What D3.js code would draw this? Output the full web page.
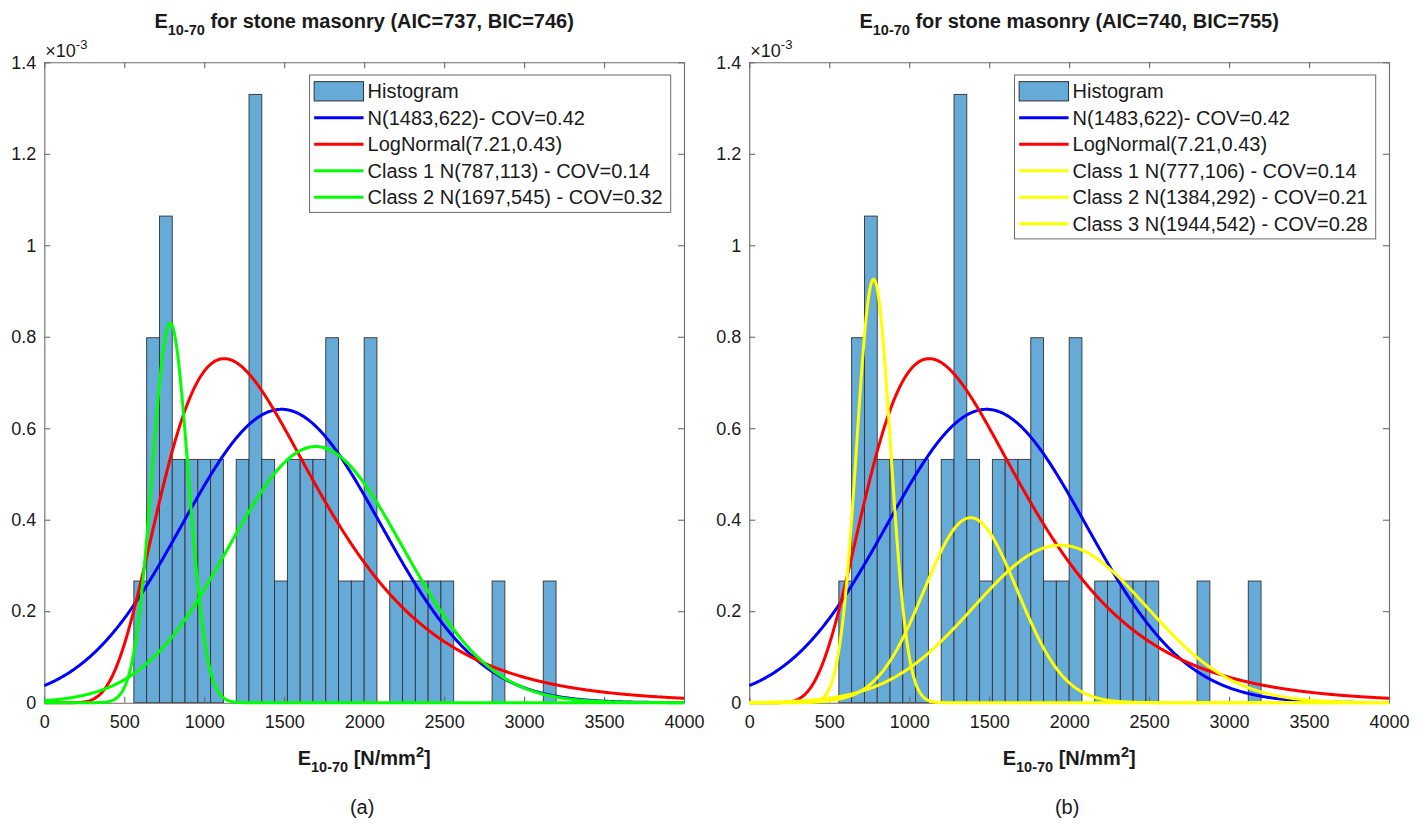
<!DOCTYPE html>
<html>
<head>
<meta charset="utf-8">
<script src="https://cdn.jsdelivr.net/npm/d3@7"></script>
<style>
  body { margin: 0; background: #fff; }
  svg { display: block; }
  text { font-family: "Liberation Sans", Arial, Helvetica, sans-serif; fill: #1a1a1a; }
</style>
</head>
<body>
<svg id="fig" width="1426" height="824"></svg>
<script>
// ---- data ----
const binStart = 560;          // left edge of first bin [N/mm2]
const binWidth = 80;           // bin width [N/mm2]
const binCounts = [1, 3, 4, 2, 2, 2, 2, 0, 2, 5, 2, 1, 2, 2, 2, 3, 1, 1, 3, 0,
                   1, 1, 1, 1, 1, 0, 0, 0, 1, 0, 0, 0, 1];
const xTicks = [0, 500, 1000, 1500, 2000, 2500, 3000, 3500, 4000];
const yTicks = [0, 0.2, 0.4, 0.6, 0.8, 1, 1.2, 1.4];   // in units of 10^-3

const normalFit = { mu: 1483, sigma: 622, cov: 0.42 };
const logNormalFit = { mu: 7.21, sigma: 0.43 };

// mixture components (weight = mixing proportion)
const classesA = [
  { mu: 787,  sigma: 113, weight: 0.235, cov: 0.14 },
  { mu: 1697, sigma: 545, weight: 0.765, cov: 0.32 }
];
const classesB = [
  { mu: 777,  sigma: 106, weight: 0.246, cov: 0.14 },
  { mu: 1384, sigma: 292, weight: 0.296, cov: 0.21 },
  { mu: 1944, sigma: 542, weight: 0.468, cov: 0.28 }
];

const panels = [
  { tag: "(a)", aic: 737, bic: 746, classes: classesA, classColor: "#00ff00", left: 44.3 },
  { tag: "(b)", aic: 740, bic: 755, classes: classesB, classColor: "#ffff00", left: 749.3 }
];

// ---- drawing ----
const svg = d3.select("#fig");
const plotW = 639.7, plotTop = 62.3, plotBottom = 702.7;
const histFill = "#66aad7";
const axisColor = "#6b6b6b";
const nTotal = d3.sum(binCounts);

const normPdf = (x, m, s) => Math.exp(-0.5 * ((x - m) / s) ** 2) / (s * Math.sqrt(2 * Math.PI));
const logNormPdf = (x, m, s) => x <= 0 ? 0 :
  Math.exp(-0.5 * ((Math.log(x) - m) / s) ** 2) / (x * s * Math.sqrt(2 * Math.PI));

const xs = d3.range(0, 4000.1, 5);

panels.forEach(p => {
  const x = d3.scaleLinear().domain([0, 4000]).range([p.left, p.left + plotW]);
  const y = d3.scaleLinear().domain([0, 1.4]).range([plotBottom, plotTop]);
  const g = svg.append("g");
  const cx = p.left + plotW / 2;

  // histogram (pdf normalisation)
  const bins = binCounts.map((c, i) => ({
    x0: binStart + i * binWidth, x1: binStart + (i + 1) * binWidth,
    d: c / (nTotal * binWidth) * 1000
  })).filter(b => b.d > 0);
  g.append("g").selectAll("rect").data(bins).join("rect")
    .attr("x", b => x(b.x0)).attr("width", b => x(b.x1) - x(b.x0))
    .attr("y", b => y(b.d)).attr("height", b => y(0) - y(b.d))
    .attr("fill", histFill).attr("stroke", "#333").attr("stroke-width", 0.9);

  // axes with inward ticks on all four sides
  const styleAxis = sel => {
    sel.selectAll("path.domain").attr("stroke", axisColor).attr("stroke-width", 1.1);
    sel.selectAll(".tick line").attr("stroke", axisColor).attr("stroke-width", 1.1);
    sel.selectAll(".tick text").attr("font-size", 18).attr("fill", "#1a1a1a")
      .attr("font-family", '"Liberation Sans", Arial, sans-serif');
  };
  g.append("g").attr("transform", `translate(0,${plotBottom})`)
    .call(d3.axisBottom(x).tickValues(xTicks).tickSizeInner(-6).tickSizeOuter(0).tickPadding(13).tickFormat(d3.format("d")))
    .call(styleAxis);
  g.append("g").attr("transform", `translate(0,${plotTop})`)
    .call(d3.axisTop(x).tickValues(xTicks).tickSizeInner(-6).tickSizeOuter(0).tickFormat(""))
    .call(styleAxis);
  g.append("g").attr("transform", `translate(${p.left},0)`)
    .call(d3.axisLeft(y).tickValues(yTicks).tickSizeInner(-6).tickSizeOuter(0).tickPadding(8).tickFormat(d3.format("~g")))
    .call(styleAxis);
  g.append("g").attr("transform", `translate(${p.left + plotW},0)`)
    .call(d3.axisRight(y).tickValues(yTicks).tickSizeInner(-6).tickSizeOuter(0).tickFormat(""))
    .call(styleAxis);

  // exponent marker
  const ex = g.append("text").attr("x", p.left + 1).attr("y", 56.7).attr("font-size", 18);
  ex.append("tspan").text("×10");
  ex.append("tspan").attr("dy", -8).attr("font-size", 13).text("-3");

  // fitted curves
  const line = d3.line().x(d => x(d[0])).y(d => y(d[1]));
  const curves = [
    { color: "#0000ff", f: v => normPdf(v, normalFit.mu, normalFit.sigma) },
    { color: "#ff0000", f: v => logNormPdf(v, logNormalFit.mu, logNormalFit.sigma) },
    ...p.classes.map(c => ({ color: p.classColor, f: v => c.weight * normPdf(v, c.mu, c.sigma) }))
  ];
  curves.forEach(c => {
    g.append("path").datum(xs.map(v => [v, c.f(v) * 1000]))
      .attr("d", line).attr("fill", "none").attr("stroke", c.color)
      .attr("stroke-width", 3).attr("stroke-linejoin", "round");
  });

  // title
  const t = g.append("text").attr("x", cx).attr("y", 28.3).attr("text-anchor", "middle")
    .attr("font-size", 20).attr("font-weight", "bold");
  t.append("tspan").text("E");
  t.append("tspan").attr("dy", 7).attr("font-size", 14.5).text("10-70");
  t.append("tspan").attr("dy", -7).text(` for stone masonry (AIC=${p.aic}, BIC=${p.bic})`);

  // x label
  const xl = g.append("text").attr("x", cx).attr("y", 765).attr("text-anchor", "middle")
    .attr("font-size", 20).attr("font-weight", "bold");
  xl.append("tspan").text("E");
  xl.append("tspan").attr("dy", 7).attr("font-size", 14.5).text("10-70");
  xl.append("tspan").attr("dy", -7).text(" [N/mm");
  xl.append("tspan").attr("dy", -8).attr("font-size", 14.5).text("2");
  xl.append("tspan").attr("dy", 8).text("]");

  // panel tag
  g.append("text").attr("x", cx - 2).attr("y", 814).attr("text-anchor", "middle")
    .attr("font-size", 20).text(p.tag);

  // legend
  const entries = [
    { type: "patch", label: "Histogram" },
    { type: "line", color: "#0000ff", label: `N(${normalFit.mu},${normalFit.sigma})- COV=${normalFit.cov}` },
    { type: "line", color: "#ff0000", label: `LogNormal(${logNormalFit.mu},${logNormalFit.sigma})` },
    ...p.classes.map((c, i) => ({ type: "line", color: p.classColor,
      label: `Class ${i + 1} N(${c.mu},${c.sigma}) - COV=${c.cov.toFixed(2)}` }))
  ];
  const rowH = 26.5, padTop = 16.3;
  const lg = g.append("g");
  const box = lg.append("rect").attr("fill", "#fff").attr("stroke", axisColor).attr("stroke-width", 1);
  let maxLen = 0;
  entries.forEach((e, i) => {
    const cy = padTop + i * rowH;
    if (e.type === "patch") {
      lg.append("rect").attr("x", 4.6).attr("y", cy - 9.65).attr("width", 49.4).attr("height", 19.3)
        .attr("fill", histFill).attr("stroke", "#333").attr("stroke-width", 1);
    } else {
      lg.append("line").attr("x1", 4.6).attr("x2", 54).attr("y1", cy).attr("y2", cy)
        .attr("stroke", e.color).attr("stroke-width", 3);
    }
    const tx = lg.append("text").attr("x", 58).attr("y", cy).attr("dy", "0.35em")
      .attr("font-size", 20).text(e.label);
    maxLen = Math.max(maxLen, tx.node().getComputedTextLength());
  });
  const lw = 58 + maxLen + 8;
  const lh = 2 * 15.7 + (entries.length - 1) * rowH;
  box.attr("width", lw).attr("height", lh);
  lg.attr("transform", `translate(${p.left + plotW - 13.3 - lw},75)`);
});
</script>
</body>
</html>
